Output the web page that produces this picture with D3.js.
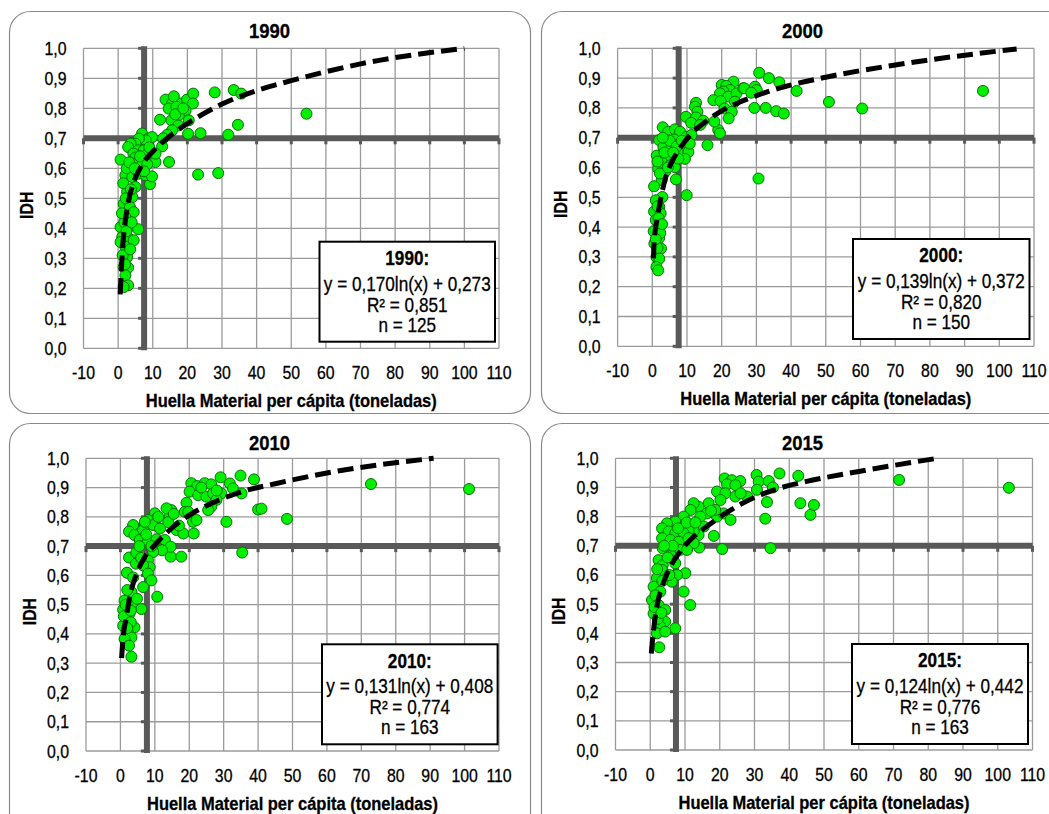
<!DOCTYPE html>
<html><head><meta charset="utf-8">
<script src="https://cdn.jsdelivr.net/npm/d3@7"></script>
<style>body{margin:0;background:#fff}svg{display:block}text{font-family:"Liberation Sans",Arial,sans-serif;fill:#000;stroke:#000;stroke-width:0.3px}</style>
</head><body><svg id="c" width="1049" height="814"></svg>
<script>
// ---------- data ----------
const years = ["1990", "2000", "2010", "2015"];
const xTickValues = [-10, 0, 10, 20, 30, 40, 50, 60, 70, 80, 90, 100, 110];
const yTickValues = [0, 0.1, 0.2, 0.3, 0.4, 0.5, 0.6, 0.7, 0.8, 0.9, 1.0];
const yTickLabels = ["0,0", "0,1", "0,2", "0,3", "0,4", "0,5", "0,6", "0,7", "0,8", "0,9", "1,0"];
const xAxisTitle = "Huella Material per cápita (toneladas)";
const yAxisTitle = "IDH";
const eqLabels = ["y = 0,170ln(x) + 0,273", "y = 0,139ln(x) + 0,372", "y = 0,131ln(x) + 0,408", "y = 0,124ln(x) + 0,442"];
const r2Labels = ["R² = 0,851", "R² = 0,820", "R² = 0,774", "R² = 0,776"];
const nLabels = ["n = 125", "n = 150", "n = 163", "n = 163"];
const crossX = [7.5, 7.6, 7.7, 7.4];
const crossY = 0.7;

const pts1990 = [[13.7,0.829],[15.6,0.816],[18.0,0.816],[19.9,0.829],[21.7,0.849],[21.6,0.816],[14.6,0.799],[16.8,0.805],[19.5,0.793],[17.5,0.777],[15.4,0.760],[12.1,0.762],[20.4,0.760],[17.4,0.743],[15.6,0.727],[14.2,0.712],[20.2,0.715],[23.8,0.717],[27.9,0.853],[33.4,0.861],[35.6,0.849],[34.6,0.745],[31.8,0.712],[23.1,0.579],[28.9,0.584],[54.4,0.782],[12.7,0.673],[14.7,0.621],[10.8,0.621],[9.2,0.547],
[6.9,0.716],[8.7,0.699],[9.8,0.704],[8.0,0.693],[6.0,0.699],[5.0,0.682],[3.6,0.682],[2.9,0.671],[5.8,0.660],[7.4,0.660],[4.4,0.649],[5.0,0.636],[8.2,0.645],[10.8,0.649],[0.7,0.629],[4.1,0.616],[6.9,0.610],[8.4,0.613],[2.1,0.577],[4.1,0.571],[5.9,0.582],[7.9,0.577],[9.8,0.573],[5.0,0.538],[2.6,0.522],[4.1,0.504],[1.6,0.482],[3.4,0.471],[4.5,0.454],[2.1,0.438],[0.7,0.404],[3.1,0.404],[5.8,0.397],[1.2,0.371],[3.1,0.366],[4.5,0.360],[0.7,0.354],[2.1,0.338],[2.6,0.304],[1.6,0.271],[2.9,0.269],[2.1,0.243],[2.9,0.210],[1.6,0.204],
[1.5,0.55],[2.5,0.60],[3.2,0.62],[1.8,0.42],[2.4,0.39],[1.3,0.31],[3.7,0.53],[2.2,0.50],[1.1,0.45],[3.9,0.42],[2.0,0.28],[3.5,0.33],[4.8,0.60],[6.3,0.64],[7.5,0.59],[9.0,0.67],[16.5,0.78],[18.8,0.80],[13.0,0.70],[16.1,0.84]];

const pts2000 = [[30.8,0.918],[33.6,0.900],[36.6,0.886],[41.6,0.857],[23.4,0.888],[20.0,0.877],[21.3,0.874],[22.4,0.860],[20.5,0.855],[19.5,0.849],[21.9,0.838],[24.3,0.849],[26.2,0.866],[26.5,0.866],[29.6,0.871],[30.1,0.860],[28.5,0.851],[17.6,0.826],[19.7,0.823],[23.8,0.821],[20.8,0.798],[22.9,0.787],[22.0,0.765],[19.0,0.726],[19.5,0.715],[17.9,0.754],[29.4,0.800],[32.7,0.800],[35.7,0.789],[37.9,0.781],[50.9,0.820],[60.5,0.798],[95.3,0.857],[12.6,0.817],[12.3,0.804],[13.0,0.787],[9.7,0.770],[12.6,0.768],[14.7,0.757],[11.2,0.750],[13.8,0.743],[15.9,0.675],[30.6,0.563],[9.9,0.507],
[3.0,0.735],[4.6,0.720],[6.5,0.728],[8.0,0.720],[2.0,0.692],[4.1,0.692],[6.3,0.694],[9.9,0.703],[11.3,0.709],[3.2,0.669],[5.6,0.671],[8.0,0.658],[10.4,0.652],[9.4,0.629],[1.3,0.640],[4.1,0.640],[2.7,0.618],[5.1,0.607],[1.7,0.597],[3.7,0.586],[6.5,0.601],[6.8,0.560],[2.7,0.558],[0.5,0.537],[2.9,0.501],[1.0,0.490],[2.0,0.468],[0.5,0.452],[2.4,0.446],[1.0,0.424],[2.0,0.402],[0.4,0.386],[2.0,0.364],[0.6,0.345],[2.5,0.328],[1.2,0.300],[2.0,0.294],[1.2,0.266],[1.7,0.255],
[1.5,0.62],[3.5,0.65],[5.0,0.69],[7.0,0.67],[2.2,0.58],[4.5,0.60],[1.5,0.47],[1.8,0.43],[2.3,0.38],[1.5,0.33],[2.8,0.41],[1.0,0.36],[7.5,0.63],[3.0,0.70],[6.0,0.65],[8.5,0.69],[10.8,0.68]];

const pts2010 = [[20.6,0.915],[22.3,0.905],[24.5,0.915],[26.4,0.911],[29.1,0.935],[34.9,0.941],[38.8,0.928],[31.8,0.914],[32.7,0.897],[35.2,0.880],[20.1,0.886],[22.6,0.874],[25.0,0.869],[26.9,0.880],[29.3,0.880],[27.9,0.858],[26.4,0.835],[25.5,0.823],[30.8,0.783],[40.0,0.825],[41.0,0.828],[35.4,0.678],[72.8,0.912],[101.3,0.895],[48.4,0.793],[19.2,0.848],[18.7,0.817],[14.8,0.823],[14.3,0.800],[13.4,0.829],[10.0,0.812],[10.5,0.795],[8.0,0.789],[7.1,0.772],[9.5,0.772],[13.9,0.782],[16.3,0.755],[18.3,0.743],[21.1,0.783],[22.1,0.789],[19.7,0.817],[21.3,0.743],[14.6,0.664],[17.7,0.664],
[3.7,0.772],[2.5,0.750],[4.1,0.738],[6.6,0.755],[7.1,0.783],[5.6,0.721],[8.0,0.715],[10.5,0.723],[12.9,0.721],[14.6,0.698],[12.1,0.686],[9.5,0.680],[5.1,0.686],[2.5,0.661],[4.6,0.678],[8.0,0.651],[8.5,0.628],[6.6,0.634],[1.9,0.609],[8.0,0.606],[9.0,0.583],[3.7,0.593],[6.6,0.560],[3.2,0.543],[1.2,0.514],[3.7,0.508],[6.1,0.485],[0.8,0.483],[2.7,0.471],[1.7,0.450],[4.1,0.422],[0.8,0.428],[2.2,0.405],[3.2,0.388],[1.2,0.383],[3.2,0.322],[10.7,0.527],
[2.0,0.55],[1.0,0.46],[2.5,0.36],[3.0,0.44],[4.5,0.64],[5.5,0.70],[7.5,0.74],[9.0,0.70],[11.5,0.76],[1.5,0.50],[4.8,0.52],[6.0,0.66],[11.0,0.80],[15.5,0.81],[23.5,0.90],[28.0,0.89],[17.0,0.77],[3.0,0.48],[2.0,0.42]];

const pts2015 = [[37.2,0.948],[42.6,0.940],[30.6,0.943],[31.2,0.920],[34.1,0.922],[35.3,0.900],[21.4,0.931],[23.5,0.925],[25.9,0.922],[22.1,0.911],[24.5,0.908],[19.2,0.886],[21.6,0.880],[24.5,0.869],[27.9,0.869],[30.7,0.892],[33.6,0.850],[33.1,0.793],[43.2,0.846],[46.1,0.806],[47.1,0.840],[34.6,0.692],[20.7,0.689],[18.3,0.734],[71.6,0.926],[103.2,0.899],[20.2,0.857],[16.8,0.846],[16.3,0.811],[19.2,0.800],[21.1,0.811],[23.1,0.789],[18.7,0.823],[13.9,0.834],[12.5,0.846],[11.6,0.823],[14.4,0.800],[15.4,0.766],[13.9,0.737],[14.1,0.694],[12.5,0.751],[9.6,0.800],[9.1,0.771],[11.0,0.754],[7.2,0.783],[4.8,0.777],[3.4,0.760],[5.3,0.749],[7.2,0.743],[9.6,0.743],[3.4,0.726],[5.8,0.720],[8.2,0.714],[11.0,0.726],[12.5,0.709],[3.6,0.691],[6.7,0.686],[8.6,0.686],[10.6,0.686],[2.4,0.651],[3.6,0.634],[7.2,0.640],[10.1,0.606],[7.7,0.600],[3.4,0.617],[1.9,0.589],[6.2,0.577],[9.6,0.543],[11.5,0.497],[0.96,0.560],[2.9,0.543],[0.5,0.514],[2.4,0.497],[4.3,0.480],[0.96,0.468],[7.2,0.417],[4.3,0.440],[2.9,0.423],[1.9,0.400],[4.3,0.406],[2.6,0.352],
[2.0,0.62],[1.5,0.53],[5.0,0.66],[6.5,0.70],[4.0,0.70],[8.0,0.76],[10.5,0.78],[13.0,0.78],[17.5,0.82],[26.0,0.88],[2.2,0.45],[3.5,0.58],[5.5,0.60],[1.2,0.49],[3.2,0.47]];

// trend lines (x, y)
const trend1990 = [[0.6,0.18],[1.16,0.31],[2.6,0.465],[4.5,0.553],[7,0.613],[10.8,0.665],[15.7,0.714],[20.4,0.752],[30,0.814],[39.7,0.858],[50,0.892],[70,0.948],[100,1.0]];
const trend2000 = [[0.35,0.295],[0.5,0.345],[1.5,0.435],[2.5,0.5],[3.9,0.569],[5.9,0.625],[8.3,0.67],[11.3,0.714],[14.7,0.748],[19.5,0.787],[24.3,0.815],[29.1,0.837],[33.9,0.857],[38.7,0.873],[50,0.903],[70,0.944],[105,0.998]];
const trend2010 = [[0.35,0.317],[0.8,0.39],[1.75,0.458],[2.7,0.527],[4.2,0.59],[6.6,0.654],[10,0.704],[14.3,0.755],[19.2,0.8],[25,0.838],[29.8,0.863],[34.7,0.884],[45.3,0.914],[60,0.95],[91,1.0]];
const trend2015 = [[0.3,0.331],[0.96,0.412],[1.9,0.492],[3.4,0.56],[5.3,0.617],[8.2,0.674],[12,0.726],[16.8,0.771],[21.6,0.811],[26.4,0.845],[31.2,0.872],[37,0.897],[44.7,0.92],[60,0.955],[82.6,1.0]];

const seriesPts = [pts1990, pts2000, pts2010, pts2015];
const seriesTrend = [trend1990, trend2000, trend2010, trend2015];

// ---------- layout ----------
const layout = [
  {frame:[9,11,521,402],  plot:[83.5,48.3,499,348.3],  legend:[319.5,241.7,175.5,100]},
  {frame:[541,11,560,402], plot:[617.6,48.3,1034,346.3], legend:[853,239,176.5,100]},
  {frame:[9,423,521,420], plot:[86,458.3,499,751],      legend:[322,644.3,175.6,100]},
  {frame:[541,423,560,420], plot:[615.5,458.3,1032.5,750], legend:[852,644,176,100]}
];
const titleCx = [269.5, 802.5, 269.5, 802.5];
const SX = 0.88;
const svg = d3.select("#c");

function T(g, x, y, s, o) {
  o = o || {};
  const tr = `translate(${x},${y})` + (o.rotate ? ` rotate(${o.rotate})` : "") + ` scale(${o.sx || SX},1)`;
  return g.append("text").attr("transform", tr)
    .attr("font-size", o.size || 18)
    .attr("font-weight", o.bold ? "bold" : "normal")
    .attr("text-anchor", o.anchor || "middle")
    .text(s);
}

layout.forEach((L, i) => {
  const g = svg.append("g");
  const [fx, fy, fw, fh] = L.frame;
  g.append("rect").attr("x", fx + 0.5).attr("y", fy + 0.5).attr("width", fw).attr("height", fh)
    .attr("rx", 21).attr("fill", "#fff").attr("stroke", "#8a8a8a").attr("stroke-width", 1.2);

  const [pl, pt, pr, pb] = L.plot;
  const x = d3.scaleLinear().domain([-10, 110]).range([pl, pr]);
  const y = d3.scaleLinear().domain([0, 1]).range([pb, pt]);

  // gridlines
  g.append("g").selectAll("line").data(xTickValues).join("line")
    .attr("x1", d => x(d)).attr("x2", d => x(d)).attr("y1", pt).attr("y2", pb)
    .attr("stroke", "#9b9b9b").attr("stroke-width", 1.3);
  g.append("g").selectAll("line").data(yTickValues).join("line")
    .attr("y1", d => y(d)).attr("y2", d => y(d)).attr("x1", pl).attr("x2", pr)
    .attr("stroke", "#9b9b9b").attr("stroke-width", 1.3);

  // thick crossing axes
  const ax = "#595959";
  const cx = x(crossX[i]), cy = y(crossY);
  g.append("line").attr("x1", pl).attr("x2", pr).attr("y1", cy).attr("y2", cy)
    .attr("stroke", ax).attr("stroke-width", 6);
  g.append("g").selectAll("line").data(xTickValues).join("line")
    .attr("x1", d => x(d)).attr("x2", d => x(d)).attr("y1", cy).attr("y2", cy + 6)
    .attr("stroke", ax).attr("stroke-width", 3);
  g.append("line").attr("x1", cx).attr("x2", cx).attr("y1", pt - 2).attr("y2", pb + 2)
    .attr("stroke", ax).attr("stroke-width", 6);
  g.append("g").selectAll("line").data(yTickValues).join("line")
    .attr("y1", d => y(d)).attr("y2", d => y(d)).attr("x1", cx - 6).attr("x2", cx)
    .attr("stroke", ax).attr("stroke-width", 3);

  // tick labels
  yTickValues.forEach((v, k) => T(g, pl - 17, y(v) + 6.5, yTickLabels[k], {anchor: "end", size: 18}));
  xTickValues.forEach(v => T(g, x(v), pb + 30.5, String(v), {size: 18}));

  // titles
  T(g, titleCx[i], fy + 26.5, years[i], {bold: true, size: 21});
  T(g, (pl + pr) / 2, pb + 59, xAxisTitle, {bold: true, size: 18, sx: 0.915});
  T(g, pl - 50.5, (pt + pb) / 2 + 7, yAxisTitle, {bold: true, size: 18, rotate: -90});

  // points
  g.append("g").selectAll("circle").data(seriesPts[i]).join("circle")
    .attr("cx", d => x(d[0])).attr("cy", d => y(d[1])).attr("r", 5.5)
    .attr("fill", "#00f000").attr("stroke", "#087008").attr("stroke-width", 1);

  // trend line
  const line = d3.line().x(d => x(d[0])).y(d => y(d[1])).curve(d3.curveMonotoneX);
  g.append("path").attr("d", line(seriesTrend[i])).attr("fill", "none")
    .attr("stroke", "#000").attr("stroke-width", 5).attr("stroke-dasharray", "16,7");

  // legend box
  const [lx, ly, lw, lh] = L.legend;
  g.append("rect").attr("x", lx).attr("y", ly).attr("width", lw).attr("height", lh)
    .attr("fill", "#fff").attr("stroke", "#000").attr("stroke-width", 2);
  const lc = lx + lw / 2;
  T(g, lc, ly + 23.3, years[i] + ":", {bold: true, size: 19.5});
  T(g, lc, ly + 49, eqLabels[i], {size: 19.5});
  T(g, lc, ly + 70, r2Labels[i], {size: 19.5});
  T(g, lc, ly + 90, nLabels[i], {size: 19.5});
});
</script></body></html>
